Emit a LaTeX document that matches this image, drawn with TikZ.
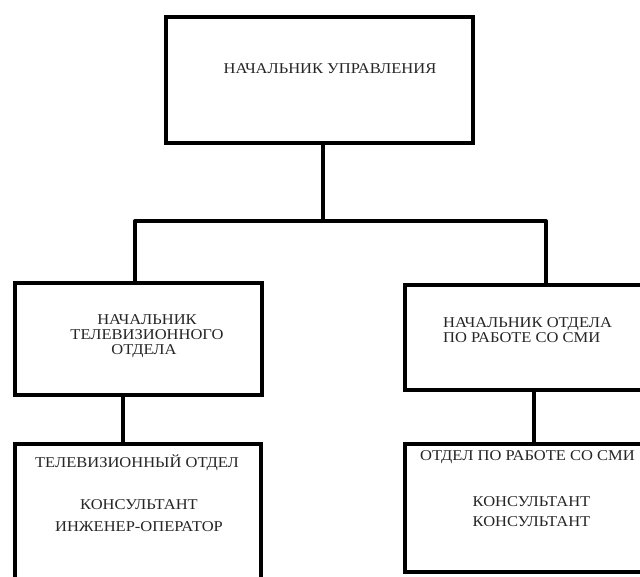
\documentclass[tikz,border=0pt]{standalone}
\usepackage{fontspec}
\setmainfont{Liberation Serif}[FakeStretch=1.1]
\begin{document}
\begin{tikzpicture}[x=1pt,y=-1pt,
  box/.style={draw=black,line width=4pt,rectangle,inner sep=0pt,outer sep=0pt,fill=white},
  conn/.style={draw=black,line width=4pt},
  lbl/.style={font=\fontsize{15}{16}\selectfont,text=black!85,inner sep=0pt,anchor=base}]
\useasboundingbox (0,0) rectangle (640,576);
\clip (0,0) rectangle (640,576);
\fill[white] (0,0) rectangle (640,576);
% boxes
\node[box,minimum width=307pt,minimum height=126pt] (top) at (319.5,80) {};
\node[box,minimum width=247pt,minimum height=112pt] (midL) at (138.5,339) {};
\node[box,minimum width=255pt,minimum height=105pt] (midR) at (532.5,337.5) {};
\node[box,minimum width=246pt,minimum height=150pt] (botL) at (138,519) {};
\node[box,minimum width=255pt,minimum height=128pt] (botR) at (532.5,508) {};
% junctions
\coordinate (j) at (323,221);
\coordinate (jl) at (135,221);
\coordinate (jr) at (546,221);
\coordinate (xl) at (123,0);
\coordinate (xr) at (534,0);
% connectors
\draw[conn] (top.south -| j) -- (j);
\draw[conn,line cap=round] (jl) -- (jr);
\draw[conn] (jl) -- (jl |- midL.north);
\draw[conn] (jr) -- (jr |- midR.north);
\draw[conn] (midL.south -| xl) -- (botL.north -| xl);
\draw[conn] (midR.south -| xr) -- (botR.north -| xr);
% texts
\node[lbl] (t1) at (330,73) {НАЧАЛЬНИК УПРАВЛЕНИЯ};
\node[lbl] (t2a) at (147,324) {НАЧАЛЬНИК};
\node[lbl] (t2b) at (147,339) {ТЕЛЕВИЗИОННОГО};
\node[lbl] (t2c) at (144,354) {ОТДЕЛА};
\node[lbl,anchor=base west] (t3a) at (443,327) {НАЧАЛЬНИК ОТДЕЛА};
\node[lbl,anchor=base west] (t3b) at (443,342.5) {ПО РАБОТЕ СО СМИ};
\node[lbl] (t4a) at (137,467) {ТЕЛЕВИЗИОННЫЙ ОТДЕЛ};
\node[lbl] (t4b) at (139,509) {КОНСУЛЬТАНТ};
\node[lbl] (t4c) at (139,531.5) {ИНЖЕНЕР-ОПЕРАТОР};
\node[lbl] (t5a) at (527.5,460) {ОТДЕЛ ПО РАБОТЕ СО СМИ};
\node[lbl] (t5b) at (531.5,506) {КОНСУЛЬТАНТ};
\node[lbl] (t5c) at (531.5,526.5) {КОНСУЛЬТАНТ};
\end{tikzpicture}
\end{document}
